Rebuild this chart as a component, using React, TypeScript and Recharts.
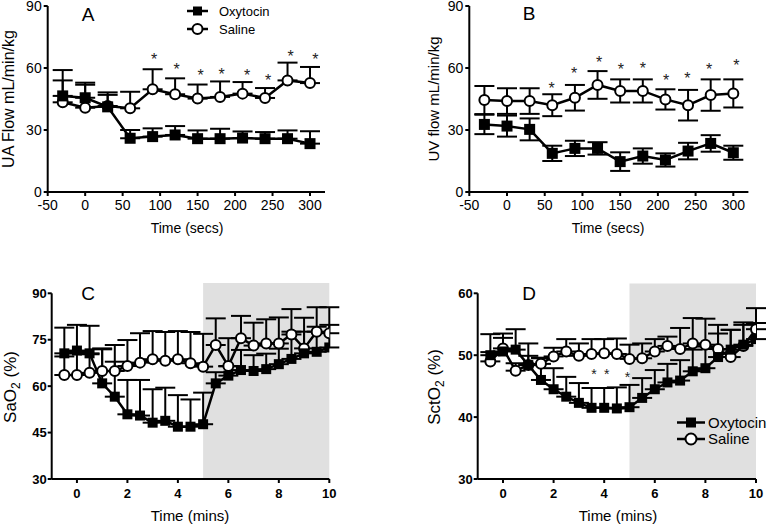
import React from 'react';
import { ComposedChart, Line, XAxis, YAxis, ErrorBar, Scatter, ReferenceArea } from 'recharts';

const FONT = '"Liberation Sans", Arial, Helvetica, sans-serif';

// A and B: time in seconds
const secs = [-30, 0, 30, 60, 90, 120, 150, 180, 210, 240, 270, 300];
const secTicks = [-50, 0, 50, 100, 150, 200, 250, 300];
const flowTicks = [0, 30, 60, 90];

const uaOxy = [46.5, 45.6, 41.2, 26.0, 26.8, 27.6, 25.8, 25.8, 26.1, 25.8, 25.8, 23.4];
const uaOxyErr = [12.5, 7.3, 7.0, 4.0, 4.0, 4.3, 4.0, 4.8, 3.2, 3.2, 4.0, 6.0];
const uaSal = [43.4, 40.8, 41.6, 40.5, 49.7, 47.3, 45.2, 46.0, 47.6, 45.5, 54.0, 52.7];
const uaSalErr = [10.6, 11.1, 5.4, 8.0, 9.7, 7.7, 6.8, 7.5, 5.6, 4.8, 8.6, 7.8];
const uaStarT = [92, 122, 154, 182, 216, 244, 274, 307];
const uaStarY = [65.8, 61.1, 57.9, 58.4, 57.9, 55.5, 67.1, 65.8];

const uvOxy = [32.7, 31.9, 30.3, 18.7, 21.1, 21.1, 14.7, 17.4, 15.5, 19.8, 23.5, 19.0];
const uvOxyErr = [4.7, 5.1, 5.3, 3.7, 3.7, 3.0, 4.5, 3.7, 3.2, 4.0, 4.0, 3.4];
const uvSal = [44.5, 44.0, 44.0, 42.0, 45.6, 51.8, 48.9, 48.9, 44.8, 42.0, 46.9, 47.7];
const uvSalErr = [6.8, 6.2, 6.2, 5.3, 6.2, 6.7, 5.6, 5.6, 4.9, 7.4, 7.6, 6.8];
const uvStarT = [59, 89, 122, 151, 180, 211, 239, 268, 304];
const uvStarY = [51.8, 59.0, 64.2, 61.0, 61.4, 55.5, 56.6, 61.0, 63.0];

// C and D: time in minutes
const mins = [-0.5, 0, 0.5, 1, 1.5, 2, 2.5, 3, 3.5, 4, 4.5, 5, 5.5, 6, 6.5, 7, 7.5, 8, 8.5, 9, 9.5, 10];
const minTicks = [0, 2, 4, 6, 8, 10];
const shade = [5, 10];

const saOxy = [70.6, 71.5, 70.6, 60.9, 56.6, 50.9, 50.5, 48.2, 48.8, 46.9, 46.9, 47.7, 60.9, 63.4, 65.2, 64.9, 65.5, 67.1, 68.8, 70.6, 71.1, 72.5];
const saOxyErr = [8.3, 8.3, 8.9, 11.3, 11.3, 11.1, 11.5, 10.8, 10.7, 10.2, 8.8, 10.2, 3.6, 3.0, 6.5, 5.1, 5.0, 5.0, 8.8, 7.0, 8.1, 7.3];
const saSal = [63.6, 63.6, 64.3, 64.9, 64.9, 66.5, 67.6, 68.7, 68.2, 68.7, 67.4, 66.3, 73.3, 66.5, 75.5, 73.1, 73.8, 73.8, 76.7, 72.2, 77.6, 77.1];
const saSalErr = [6.0, 7.0, 6.0, 7.0, 8.4, 8.4, 9.5, 9.1, 9.3, 9.1, 10.1, 10.6, 8.6, 9.0, 7.2, 7.4, 7.8, 8.4, 8.2, 9.9, 7.9, 8.4];

const sctOxy = [50.0, 50.6, 50.9, 48.4, 46.0, 44.5, 43.3, 42.3, 41.5, 41.5, 41.4, 41.6, 43.1, 44.5, 45.6, 45.9, 47.4, 47.9, 49.7, 50.9, 51.7, 52.6];
const sctOxyErr = [3.4, 2.9, 3.3, 3.5, 3.5, 3.4, 3.2, 3.2, 3.2, 3.2, 3.4, 3.6, 3.2, 3.1, 3.0, 3.3, 3.5, 3.5, 3.8, 3.2, 3.2, 2.6];
const sctSal = [49.0, 51.1, 47.5, 48.4, 48.6, 49.8, 50.6, 49.9, 50.2, 50.3, 50.2, 49.4, 49.5, 50.6, 51.5, 51.0, 51.9, 51.7, 51.0, 49.7, 51.5, 54.2];
const sctSalErr = [1.5, 1.7, 1.2, 1.5, 1.0, 1.4, 2.0, 2.0, 2.4, 2.3, 2.5, 2.3, 2.4, 2.0, 1.5, 3.4, 4.1, 4.2, 3.9, 4.4, 3.8, 3.4];
const sctStarT = [3.6, 4.1, 4.92];
const sctStarY = [47.4, 47.4, 47.0];

const buildRows = (t: number[], oxy: number[], oxyErr: number[], sal: number[], salErr: number[], upOnly: boolean) =>
  t.map((x, i) => ({
    t: x,
    oxy: oxy[i],
    sal: sal[i],
    oxyErr: upOnly ? [0, oxyErr[i]] : oxyErr[i],
    salErr: upOnly ? [0, salErr[i]] : salErr[i],
  }));

const buildStars = (t: number[], y: number[]) => t.map((x, i) => ({ t: x, y: y[i] }));

const makeSquare = (size: number) => (p: any) => {
  if (p.cx == null || p.cy == null) return <g key={`sq-${p.index}`} />;
  return <rect key={`sq-${p.index}`} x={p.cx - size / 2} y={p.cy - size / 2} width={size} height={size} fill="#000" />;
};

const makeStar = (fs: number) => (p: any) => (
  <text x={p.cx} y={p.cy} dy={fs * 0.57} textAnchor="middle" fontSize={fs} fontFamily={FONT} fill="#222">*</text>
);

interface PanelProps {
  box: number[];
  margin: { top: number; right: number; bottom: number; left: number };
  yWidth: number;
  xHeight: number;
  rows: any[];
  stars: any[];
  xDomain: number[];
  xTicks: number[];
  yDomain: number[];
  yTicks: number[];
  shadeTop?: number;
  bold?: boolean;
  sq: number;
  starSize: number;
}

const Panel = ({ box, margin, yWidth, xHeight, rows, stars, xDomain, xTicks, yDomain, yTicks, shadeTop, bold, sq, starSize }: PanelProps) => {
  const tick = { fill: '#000', fontSize: bold ? 13 : 14, fontWeight: bold ? 700 : 400, fontFamily: FONT };
  const axisLine = { stroke: '#000', strokeWidth: 2 };
  return (
    <div style={{ position: 'absolute', left: box[0], top: box[1] }}>
      <ComposedChart width={box[2]} height={box[3]} data={rows} margin={margin} style={{ overflow: 'visible' }}>
        {shadeTop !== undefined && (
          <ReferenceArea x1={shade[0]} x2={shade[1]} y1={yDomain[0]} y2={shadeTop} fill="#e0e0e0" fillOpacity={1} stroke="none" ifOverflow="visible" />
        )}
        <XAxis
          type="number"
          dataKey="t"
          domain={xDomain}
          ticks={xTicks}
          allowDataOverflow
          height={xHeight}
          axisLine={axisLine}
          tickLine={axisLine}
          tickSize={4}
          tickMargin={bold ? 6 : 4}
          tick={tick}
          interval={0}
        />
        <YAxis
          type="number"
          domain={yDomain}
          ticks={yTicks}
          allowDataOverflow
          width={yWidth}
          axisLine={axisLine}
          tickLine={axisLine}
          tickSize={4}
          tickMargin={bold ? 1 : 2}
          tick={tick}
          interval={0}
        />
        <Line
          type="linear"
          dataKey="sal"
          stroke="#000"
          strokeWidth={2.5}
          dot={{ r: 5, fill: '#fff', stroke: '#000', strokeWidth: 2 }}
          activeDot={false}
          isAnimationActive={false}
        >
          <ErrorBar dataKey="salErr" direction="y" width={10} strokeWidth={2} stroke="#000" />
        </Line>
        <Line
          type="linear"
          dataKey="oxy"
          stroke="#000"
          strokeWidth={2.5}
          dot={makeSquare(sq)}
          activeDot={false}
          isAnimationActive={false}
        >
          <ErrorBar dataKey="oxyErr" direction="y" width={10} strokeWidth={2} stroke="#000" />
        </Line>
        <Scatter data={stars} dataKey="y" shape={makeStar(starSize)} isAnimationActive={false} />
      </ComposedChart>
    </div>
  );
};

const LegendRow = ({ x, y, label, filled, fs, lineW, gap, size }: any) => (
  <g>
    <line x1={x} x2={x + lineW} y1={y} y2={y} stroke="#000" strokeWidth={2.5} />
    {filled ? (
      <rect x={x + lineW / 2 - size / 2} y={y - size / 2} width={size} height={size} fill="#000" />
    ) : (
      <circle cx={x + lineW / 2} cy={y} r={size / 2} fill="#fff" stroke="#000" strokeWidth={2} />
    )}
    <text x={x + lineW + gap} y={y + fs * 0.36} fontSize={fs} fontFamily={FONT} fill="#000">{label}</text>
  </g>
);

const Overlay = () => (
  <svg width={767} height={527} style={{ position: 'absolute', left: 0, top: 0, pointerEvents: 'none' }}>
    <g fontFamily={FONT} fill="#000">
      <text x={88} y={21} fontSize={19} textAnchor="middle">A</text>
      <text x={529} y={20} fontSize={19} textAnchor="middle">B</text>
      <text x={88} y={300} fontSize={19} textAnchor="middle">C</text>
      <text x={529} y={300} fontSize={19} textAnchor="middle">D</text>

      <text transform="translate(14,99) rotate(-90)" fontSize={16} textAnchor="middle">UA Flow mL/min/kg</text>
      <text transform="translate(439,99) rotate(-90)" fontSize={15} textAnchor="middle">UV flow mL/min/kg</text>
      <text transform="translate(16,387) rotate(-90)" fontSize={17} textAnchor="middle">
        SaO<tspan fontSize={12} dy={4}>2</tspan><tspan dy={-4}> (%)</tspan>
      </text>
      <text transform="translate(440,387) rotate(-90)" fontSize={17} textAnchor="middle">
        SctO<tspan fontSize={12} dy={4}>2</tspan><tspan dy={-4}> (%)</tspan>
      </text>

      <text x={187} y={233} fontSize={14} textAnchor="middle">Time (secs)</text>
      <text x={608} y={233} fontSize={14} textAnchor="middle">Time (secs)</text>
      <text x={190} y={521} fontSize={15} textAnchor="middle">Time (mins)</text>
      <text x={618} y={521} fontSize={15} textAnchor="middle">Time (mins)</text>
    </g>
    <LegendRow x={187} y={11} label="Oxytocin" filled fs={13} lineW={21} gap={11} size={9} />
    <LegendRow x={187} y={29} label="Saline" filled={false} fs={13} lineW={21} gap={11} size={10} />
    <LegendRow x={677} y={422.5} label="Oxytocin" filled fs={15} lineW={28} gap={3} size={10} />
    <LegendRow x={677} y={439} label="Saline" filled={false} fs={15} lineW={28} gap={3} size={11} />
  </svg>
);

export default function App() {
  return (
    <div style={{ position: 'absolute', left: 0, top: 0, width: 767, height: 527, background: '#fff', overflow: 'hidden' }}>
      <Panel
        box={[0, 0, 380, 230]}
        margin={{ top: 6, right: 55, bottom: 8, left: 7.7 }}
        yWidth={40}
        xHeight={30}
        rows={buildRows(secs, uaOxy, uaOxyErr, uaSal, uaSalErr, true)}
        stars={buildStars(uaStarT, uaStarY)}
        xDomain={[-50, 320]}
        xTicks={secTicks}
        yDomain={[0, 90]}
        yTicks={flowTicks}
        sq={11}
        starSize={16}
      />
      <Panel
        box={[380, 0, 387, 230]}
        margin={{ top: 6, right: 18.6, bottom: 8, left: 49.3 }}
        yWidth={40}
        xHeight={30}
        rows={buildRows(secs, uvOxy, uvOxyErr, uvSal, uvSalErr, false)}
        stars={buildStars(uvStarT, uvStarY)}
        xDomain={[-50, 320]}
        xTicks={secTicks}
        yDomain={[0, 90]}
        yTicks={flowTicks}
        sq={11}
        starSize={16}
      />
      <Panel
        box={[0, 240, 380, 287]}
        margin={{ top: 53.3, right: 50.7, bottom: 8, left: 7.7 }}
        yWidth={44}
        xHeight={40}
        rows={buildRows(mins, saOxy, saOxyErr, saSal, saSalErr, true)}
        stars={[]}
        xDomain={[-1, 10]}
        xTicks={minTicks}
        yDomain={[30, 90]}
        yTicks={[30, 45, 60, 75, 90]}
        shadeTop={93.3}
        bold
        sq={10}
        starSize={14}
      />
      <Panel
        box={[380, 240, 387, 287]}
        margin={{ top: 53.3, right: 11, bottom: 8, left: 53.7 }}
        yWidth={44}
        xHeight={40}
        rows={buildRows(mins, sctOxy, sctOxyErr, sctSal, sctSalErr, true)}
        stars={buildStars(sctStarT, sctStarY)}
        xDomain={[-1, 10]}
        xTicks={minTicks}
        yDomain={[30, 60]}
        yTicks={[30, 40, 50, 60]}
        shadeTop={61.6}
        bold
        sq={10}
        starSize={14}
      />
      <Overlay />
    </div>
  );
}
